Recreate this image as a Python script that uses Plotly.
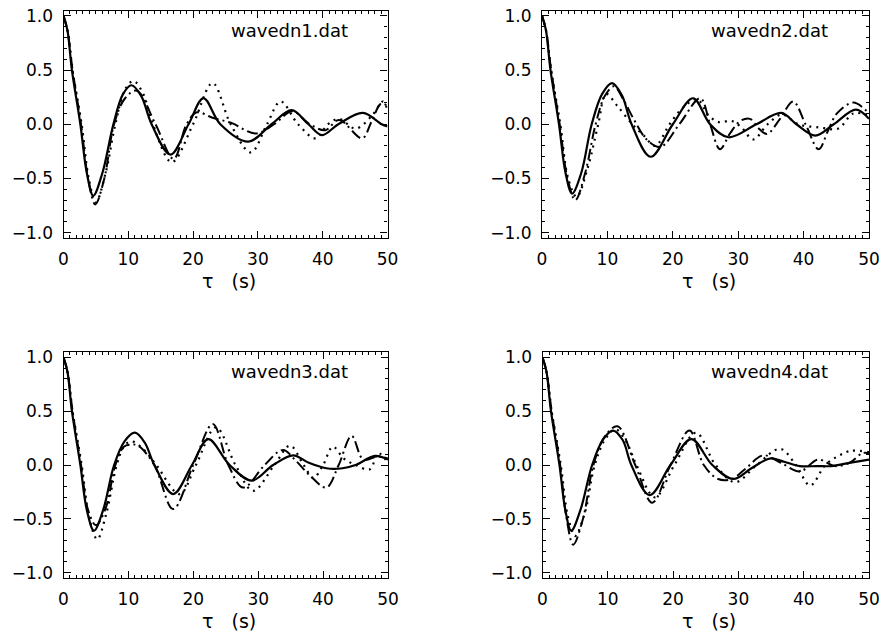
import plotly.graph_objects as go

# ---------------- data ----------------
panel_names = ["wavedn1.dat", "wavedn2.dat", "wavedn3.dat", "wavedn4.dat"]
x_ticks = [0, 10, 20, 30, 40, 50]
y_ticks = [-1.0, -0.5, 0.0, 0.5, 1.0]

# panel 1
p1_solid_x = [0, 0.6, 1.3, 2.6, 3.6, 4.6, 6.0, 7.7, 9.2, 10.5, 12.0, 13.6, 16.5, 19.3, 21.6, 24.2, 28.5, 32.1, 35.2, 37.8, 39.9, 42.4, 46.2, 49.1, 50]
p1_solid_y = [1.0, 0.87, 0.5, 0.0, -0.45, -0.66, -0.45, 0.0, 0.28, 0.36, 0.26, 0.0, -0.28, 0.0, 0.24, 0.0, -0.16, 0.0, 0.13, 0.0, -0.10, 0.0, 0.105, 0.0, -0.02]
p1_dot_x = [0, 0.6, 1.4, 2.8, 3.9, 5.0, 6.5, 8.0, 9.5, 10.8, 12.3, 13.8, 16.7, 20.0, 23.0, 25.8, 28.9, 31.4, 33.5, 36.2, 38.9, 40.8, 42.5, 45.1, 47.6, 49.3, 50]
p1_dot_y = [1.0, 0.87, 0.5, 0.0, -0.5, -0.72, -0.45, 0.0, 0.32, 0.40, 0.28, 0.0, -0.35, 0.0, 0.38, 0.0, -0.26, 0.0, 0.21, 0.0, -0.13, 0.0, 0.05, -0.04, 0.08, 0.21, 0.13]
p1_dash_x = [0, 0.6, 1.4, 2.7, 3.8, 4.9, 6.3, 7.8, 9.5, 11.3, 14.2, 17.0, 19.0, 20.6, 23.0, 26.0, 29.6, 32.5, 35.3, 38.0, 40.4, 42.5, 46.1, 47.5, 49.0, 50]
p1_dash_y = [1.0, 0.87, 0.5, 0.0, -0.5, -0.74, -0.5, 0.0, 0.24, 0.31, 0.0, -0.32, 0.0, 0.11, 0.06, 0.01, -0.085, 0.0, 0.12, 0.0, -0.055, 0.04, -0.13, 0.02, 0.19, 0.17]

# panel 2
p2_solid_x = [0, 0.6, 1.3, 2.6, 3.6, 4.6, 6.0, 7.6, 9.2, 10.7, 12.2, 13.7, 16.6, 20.0, 23.1, 25.7, 28.5, 32.8, 36.6, 38.9, 41.8, 44.6, 48.0, 50]
p2_solid_y = [1.0, 0.87, 0.5, 0.0, -0.45, -0.64, -0.45, 0.0, 0.28, 0.38, 0.27, 0.0, -0.30, 0.0, 0.24, 0.0, -0.12, 0.0, 0.105, 0.0, -0.105, 0.0, 0.135, 0.05]
p2_dot_x = [0, 0.6, 1.4, 2.8, 4.0, 5.3, 7.0, 8.6, 9.8, 11.5, 13.8, 15.5, 17.3, 19.5, 21.5, 23.7, 25.5, 27.0, 29.0, 30.5, 32.3, 34.5, 36.7, 39.2, 42.5, 45.3, 47.6, 50]
p2_dot_y = [1.0, 0.87, 0.5, 0.0, -0.5, -0.67, -0.4, 0.0, 0.28, 0.17, 0.0, -0.10, -0.20, 0.0, 0.15, 0.23, 0.08, 0.02, 0.03, -0.03, -0.14, 0.0, 0.09, 0.0, -0.03, -0.04, 0.10, 0.08]
p2_dash_x = [0, 0.6, 1.4, 2.7, 3.9, 5.1, 6.6, 8.2, 9.6, 11.0, 12.5, 14.0, 16.0, 18.1, 21.0, 24.2, 25.7, 27.2, 28.8, 30.3, 31.8, 33.0, 34.4, 36.4, 38.4, 40.3, 42.3, 43.8, 45.1, 47.6, 50]
p2_dash_y = [1.0, 0.87, 0.5, 0.0, -0.5, -0.70, -0.45, 0.0, 0.26, 0.35, 0.22, 0.05, -0.14, -0.21, 0.0, 0.24, 0.0, -0.23, -0.08, 0.03, 0.05, -0.03, -0.09, 0.05, 0.21, 0.0, -0.23, -0.05, 0.10, 0.20, 0.10]

# panel 3
p3_solid_x = [0, 0.6, 1.3, 2.6, 3.6, 4.7, 6.1, 7.8, 9.4, 11.0, 12.5, 14.0, 16.9, 19.8, 22.3, 25.6, 29.0, 32.3, 35.4, 37.8, 40.5, 43.0, 45.0, 48.0, 50]
p3_solid_y = [1.0, 0.87, 0.5, 0.0, -0.42, -0.61, -0.42, 0.0, 0.22, 0.30, 0.21, 0.0, -0.27, 0.0, 0.24, 0.0, -0.145, 0.0, 0.09, 0.02, -0.03, -0.03, 0.0, 0.085, 0.05]
p3_dot_x = [0, 0.6, 1.4, 2.8, 4.0, 5.2, 6.6, 8.2, 9.4, 10.5, 12.4, 14.3, 17.9, 20.4, 23.5, 26.5, 29.2, 32.5, 34.9, 37.0, 38.5, 40.0, 41.5, 43.2, 45.0, 47.2, 48.5, 50]
p3_dot_y = [1.0, 0.87, 0.5, 0.0, -0.5, -0.69, -0.45, 0.0, 0.18, 0.22, 0.14, 0.0, -0.27, 0.0, 0.35, 0.0, -0.24, 0.0, 0.18, 0.0, -0.12, 0.0, 0.17, 0.06, 0.0, -0.04, 0.11, 0.02]
p3_dash_x = [0, 0.6, 1.4, 2.7, 3.8, 5.0, 6.5, 8.0, 9.3, 10.5, 11.5, 14.0, 16.9, 20.0, 23.0, 25.4, 27.7, 31.0, 33.8, 35.8, 38.0, 40.5, 42.4, 44.4, 46.2, 48.5, 50]
p3_dash_y = [1.0, 0.87, 0.5, 0.0, -0.42, -0.56, -0.4, 0.0, 0.17, 0.19, 0.18, 0.0, -0.41, 0.0, 0.38, 0.0, -0.21, 0.0, 0.14, 0.04, -0.10, -0.21, 0.0, 0.27, 0.05, 0.08, 0.06]

# panel 4
p4_solid_x = [0, 0.6, 1.3, 2.6, 3.5, 4.4, 5.8, 7.6, 9.3, 10.8, 12.3, 13.6, 16.4, 19.6, 22.8, 26.0, 29.2, 32.0, 34.8, 37.0, 39.4, 42.0, 44.2, 47.0, 50]
p4_solid_y = [1.0, 0.87, 0.5, 0.0, -0.42, -0.61, -0.42, 0.0, 0.24, 0.32, 0.23, 0.0, -0.28, 0.0, 0.24, 0.0, -0.13, -0.03, 0.06, 0.03, -0.01, -0.01, -0.01, 0.02, 0.05]
p4_dot_x = [0, 0.6, 1.4, 2.8, 3.9, 5.0, 6.5, 8.0, 9.6, 11.2, 12.8, 14.4, 17.2, 20.2, 23.5, 26.5, 29.5, 32.8, 36.4, 38.8, 41.0, 43.3, 45.2, 47.1, 50]
p4_dot_y = [1.0, 0.87, 0.5, 0.0, -0.48, -0.66, -0.44, 0.0, 0.24, 0.33, 0.22, 0.0, -0.30, 0.0, 0.30, 0.0, -0.16, 0.0, 0.15, 0.0, -0.19, 0.0, 0.08, 0.13, 0.12]
p4_dash_x = [0, 0.6, 1.4, 2.7, 3.7, 4.7, 6.2, 7.8, 9.6, 11.5, 14.2, 16.8, 19.6, 22.5, 24.7, 26.9, 29.0, 31.0, 33.8, 36.5, 39.4, 42.2, 44.8, 47.0, 49.0, 50]
p4_dash_y = [1.0, 0.87, 0.5, 0.0, -0.5, -0.74, -0.5, 0.0, 0.27, 0.36, 0.0, -0.35, 0.0, 0.32, 0.0, -0.13, -0.13, -0.04, 0.09, 0.02, -0.06, 0.05, -0.01, 0.02, 0.11, 0.11]

panels = [
    [(p1_solid_x, p1_solid_y), (p1_dot_x, p1_dot_y), (p1_dash_x, p1_dash_y)],
    [(p2_solid_x, p2_solid_y), (p2_dot_x, p2_dot_y), (p2_dash_x, p2_dash_y)],
    [(p3_solid_x, p3_solid_y), (p3_dot_x, p3_dot_y), (p3_dash_x, p3_dash_y)],
    [(p4_solid_x, p4_solid_y), (p4_dot_x, p4_dot_y), (p4_dash_x, p4_dash_y)],
]

# ---------------- styling ----------------
W, H = 883, 633
FONT = "DejaVu Sans"
line_styles = [
    dict(color="black", width=2.2, dash="solid"),
    dict(color="black", width=2.2, dash="2px,5px"),
    dict(color="black", width=2.0, dash="11px,4px,2px,4px"),
]
# pixel boxes (left, right, top, bottom)
boxes = [
    (63.5, 387.5, 10.5, 238.0),
    (542.0, 869.0, 10.5, 238.0),
    (63.5, 388.0, 352.0, 578.0),
    (542.5, 869.0, 352.0, 578.0),
]

fig = go.Figure()
layout = dict(
    template="none",
    width=W, height=H, autosize=False,
    margin=dict(l=0, r=0, t=0, b=0, pad=0),
    paper_bgcolor="white", plot_bgcolor="white",
    showlegend=False,
    font=dict(family=FONT, color="black"),
)

annotations = []
for i, (series, name, box) in enumerate(zip(panels, panel_names, boxes)):
    n = "" if i == 0 else str(i + 1)
    xa, ya = "x" + n, "y" + n
    for (xs, ys), st in zip(series, line_styles):
        fig.add_trace(go.Scatter(x=xs, y=ys, xaxis=xa, yaxis=ya, mode="lines",
                                 line=dict(shape="spline", smoothing=1.0, **st),
                                 hoverinfo="skip"))
    l, r, t, b = box
    common = dict(showgrid=False, zeroline=False, showline=True, linecolor="black",
                  linewidth=1.2, mirror="ticks", ticks="inside", tickcolor="black",
                  automargin=False,
                  tickwidth=1, tickfont=dict(family=FONT, size=17, color="black"))
    layout["xaxis" + n] = dict(
        common, domain=[l / W, r / W], anchor=ya, range=[0, 50],
        tickvals=x_ticks, ticklen=7, ticklabelstandoff=5,
        minor=dict(dtick=1, tick0=0, ticks="inside", ticklen=3, tickcolor="black", tickwidth=1),
    )
    layout["yaxis" + n] = dict(
        common, domain=[1 - b / H, 1 - t / H], anchor=xa, range=[-1.05, 1.05],
        tickvals=y_ticks, tickformat=".1f", ticklen=7, ticklabelstandoff=6,
        minor=dict(dtick=0.1, tick0=0, ticks="inside", ticklen=3, tickcolor="black", tickwidth=1),
    )
    annotations.append(dict(text=name, xref=xa, yref=ya, x=34.8, y=0.87,
                            showarrow=False, font=dict(family=FONT, size=18, color="black")))
    annotations.append(dict(text="\u03c4\u00a0\u00a0\u00a0(s)", xref=xa + " domain", yref="paper",
                            x=0.51, y=1 - (b + 43) / H, yanchor="middle", showarrow=False,
                            font=dict(family=FONT, size=19, color="black")))

layout["annotations"] = annotations
fig.update_layout(**layout)
fig.write_html("out.html", config={"displayModeBar": False},
               post_script="document.body.style.margin='0';")
